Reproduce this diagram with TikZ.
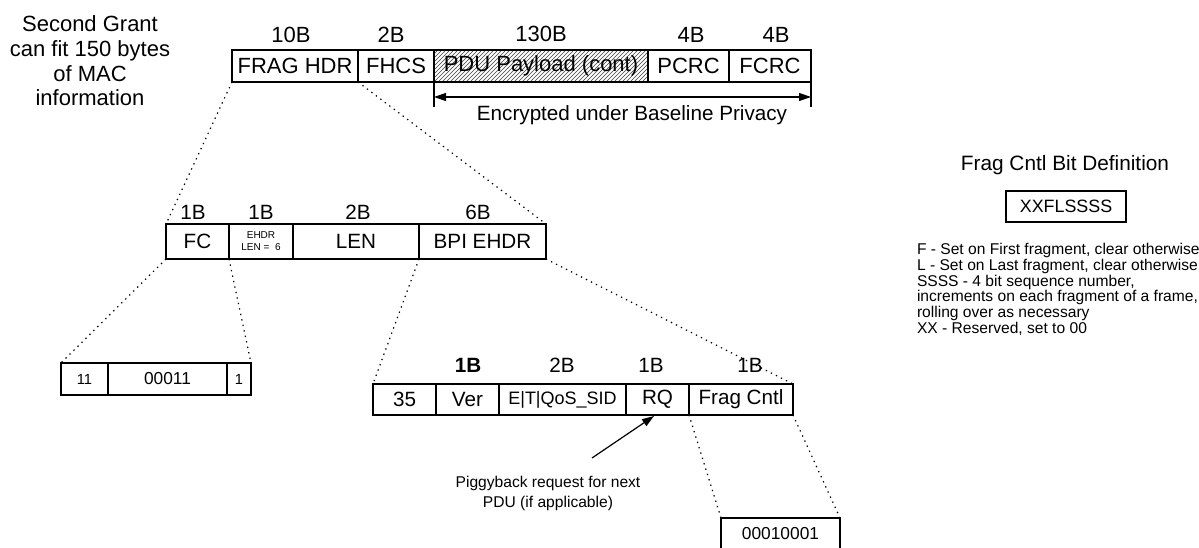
\documentclass[tikz,border=0pt]{standalone}
\usepackage{fontspec}
\setmainfont{Liberation Sans}
\usetikzlibrary{arrows.meta,patterns}
\begin{document}
\begin{tikzpicture}[x=0.75pt,y=-0.75pt,
  bx/.style 2 args={draw, line width=0.9pt, inner sep=0pt, outer sep=0pt, anchor=north west,
     minimum width=#1*0.75pt, minimum height=#2*0.75pt},
  big/.style={font=\fontsize{16.5}{19}\selectfont},
  mid/.style={font=\fontsize{15.5}{18}\selectfont},
  lbl/.style={inner sep=0pt, outer sep=0pt},
  dots/.style={line width=0.9pt, dash pattern=on 1pt off 3.2pt},
  arr/.style={line width=0.9pt}
]
\useasboundingbox (0,0) rectangle (1199,548);
\clip (0,0) rectangle (1199,548);

% left text
\node[lbl, align=center, font=\fontsize{16.5}{18.5}\selectfont] (grant) at (90,61)
  {Second Grant\\can fit 150 bytes\\of MAC\\information};

% row 1
\node[bx={126}{32}, big] (fraghdr) at (232,50) {FRAG HDR};
\node[bx={76}{32}, big] (fhcs) at (358,50) {FHCS};
\node[bx={214}{32}, big, fill=gray!30, pattern=north east lines, pattern color=gray!50!black] (pdub) at (434,50) {};
\node[lbl, big] (pdu) at (pdub.center) {PDU Payload (cont)};
\node[bx={81}{32}, big] (pcrc) at (648,50) {PCRC};
\node[bx={82}{32}, big] (fcrc) at (729,50) {FCRC};

\node[lbl, big] (l10) at (291,35) {10B};
\node[lbl, big] (l2) at (391,35) {2B};
\node[lbl, big] (l130) at (541,34) {130B};
\node[lbl, big] (l4a) at (691,35) {4B};
\node[lbl, big] (l4b) at (776,35) {4B};

% encrypted span
\coordinate (encL) at (434,97);
\coordinate (encR) at (811,97);
\draw[arr] (pdub.south west) -- ++(0,25);
\draw[arr] (fcrc.south east) -- ++(0,25);
\draw[arr, {Triangle[length=9pt,width=6pt]}-{Triangle[length=9pt,width=6pt]}] (encL) -- (encR);
\node[lbl, mid] (enc) at (632,115) {Encrypted under Baseline Privacy};

% row 2
\node[bx={63}{35}, mid] (fc) at (166,224) {FC};
\node[bx={64}{35}, align=center, font=\fontsize{7.5}{9}\selectfont] (ehdr) at (229,224) {EHDR\\LEN =\ \ 6};
\node[bx={126}{35}, mid] (len) at (293,224) {LEN};
\node[bx={127}{35}, mid] (bpi) at (419,224) {BPI EHDR};

\node[lbl, mid] (m1) at (193,212) {1B};
\node[lbl, mid] (m2) at (261,212) {1B};
\node[lbl, mid] (m3) at (358,212) {2B};
\node[lbl, mid] (m4) at (478,212) {6B};

% row 3 (FC bits)
\node[bx={47}{32}, font=\fontsize{11}{13}\selectfont] (b11) at (61,363) {11};
\node[bx={119}{32}, font=\fontsize{13}{15}\selectfont] (b00011) at (108,363) {00011};
\node[bx={24}{32}, font=\fontsize{11}{13}\selectfont] (b1) at (227,363) {1};

% row 4 (BPI EHDR)
\node[bx={63}{31}, mid] (f35) at (373,384) {35};
\node[bx={63}{31}, mid] (ver) at (436,384) {Ver};
\node[bx={127}{31}, font=\fontsize{13.5}{16}\selectfont] (sid) at (499,384) {E|T|QoS\_SID};
\node[bx={63}{31}, mid] (rq) at (626,384) {RQ};
\node[bx={104}{31}, mid] (fcntl) at (689,384) {Frag Cntl};

\node[lbl, font=\fontsize{15.5}{18}\selectfont\bfseries] (n1) at (468,365) {1B};
\node[lbl, mid] (n2) at (562,365) {2B};
\node[lbl, mid] (n3) at (651,365) {1B};
\node[lbl, mid] (n4) at (750,365) {1B};

% frag cntl bits
\node[bx={119}{32}, font=\fontsize{13}{15}\selectfont] (fbits) at (721,518) {00010001};

% piggyback
\node[lbl, align=center, font=\fontsize{11.7}{15}\selectfont] (pig) at (548,493)
  {Piggyback request for next\\PDU (if applicable)};
\coordinate (pigtail) at (592,458);
\coordinate (rqtip) at (654,416);
\draw[arr, -{Triangle[length=9pt,width=6pt]}] (pigtail) -- (rqtip);

% dotted connectors
\draw[dots] (fraghdr.south west) -- (fc.north west);
\draw[dots] (fraghdr.south east) -- (bpi.north east);
\draw[dots] (fc.south west) -- (b11.north west);
\draw[dots] (fc.south east) -- (b1.north east);
\draw[dots] (len.south east) -- (f35.north west);
\draw[dots] (bpi.south east) -- (fcntl.north east);
\draw[dots] (fcntl.south west) -- (fbits.north west);
\draw[dots] (fcntl.south east) -- (fbits.north east);

% right side definition
\node[lbl, font=\fontsize{15.6}{18}\selectfont] (title) at (1065,165) {Frag Cntl Bit Definition};
\node[bx={120}{31}, font=\fontsize{13.4}{15}\selectfont] (xx) at (1006,191) {XXFLSSSS};
\node[lbl, anchor=north west, align=left, font=\fontsize{11.7}{11.9}\selectfont] (defs) at (917,243)
  {F - Set on First fragment, clear otherwise\\
   L - Set on Last fragment, clear otherwise\\
   SSSS - 4 bit sequence number,\\
   increments on each fragment of a frame,\\
   rolling over as necessary\\
   XX - Reserved, set to 00};
\end{tikzpicture}
\end{document}
